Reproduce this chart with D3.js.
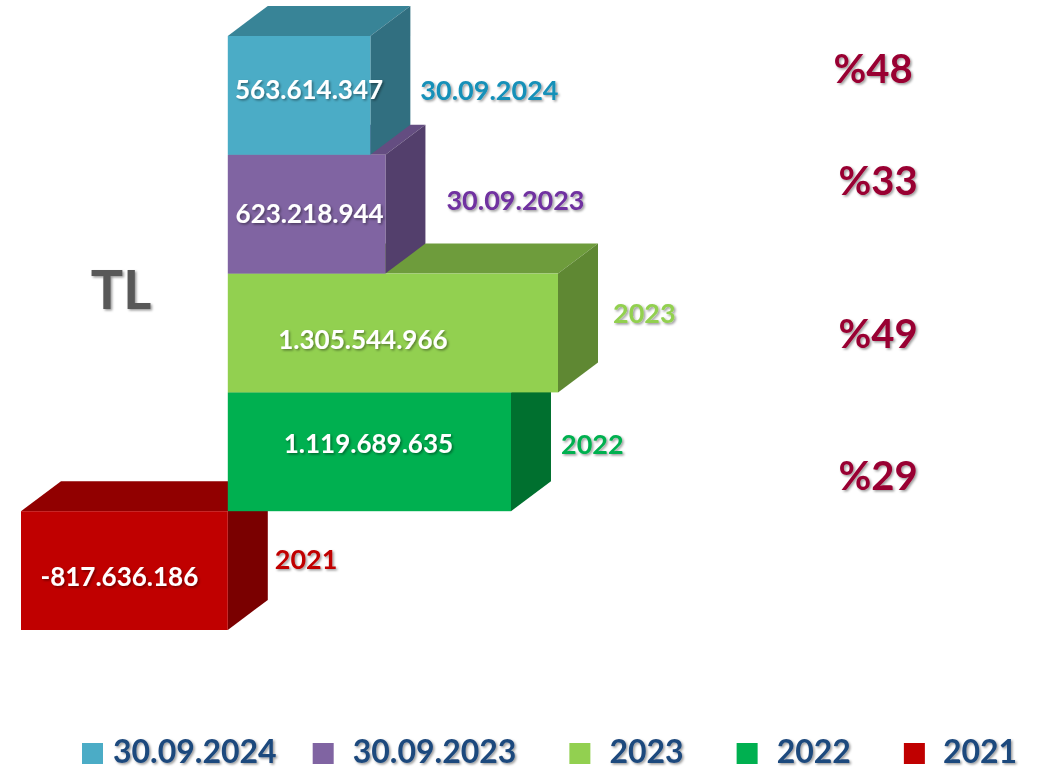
<!DOCTYPE html>
<html>
<head>
<meta charset="utf-8">
<script src="https://cdn.jsdelivr.net/npm/d3@7"></script>
<style>
  html, body { margin: 0; padding: 0; background: #ffffff; }
  svg { display: block; }
  text { font-family: Lato, "Open Sans", "Liberation Sans", sans-serif; font-weight: 700; }
</style>
</head>
<body>
<svg id="chart" width="1061" height="770"></svg>
<script>
// ---- data ----
const categories = ["30.09.2024", "30.09.2023", "2023", "2022", "2021"];
const values = [563614347, 623218944, 1305544966, 1119689635, -817636186];
const valueLabels = ["563.614.347", "623.218.944", "1.305.544.966", "1.119.689.635", "-817.636.186"];
const growthLabels = ["%48", "%33", "%49", "%29"];
const unitLabel = "TL";

// ---- styles ----
const frontColors = ["#4BACC6", "#8064A2", "#92D050", "#00B050", "#C00000"];
const topColors   = ["#388497", "#644D81", "#6E9C3C", "#00893D", "#910000"];
const sideColors  = ["#316F80", "#533F6C", "#5F8833", "#00702F", "#7A0000"];
const catLabelColors = ["#1590B8", "#7030A0", "#92D050", "#00B050", "#C00000"];

const W = 1061, H = 770;
const depthX = 40, depthY = 30;

const svg = d3.select("#chart");
const defs = svg.append("defs");
const f = defs.append("filter").attr("id", "shadow").attr("x", "-10%").attr("y", "-20%").attr("width", "130%").attr("height", "150%");
f.append("feDropShadow").attr("dx", 1.5).attr("dy", 1.5).attr("stdDeviation", 1).attr("flood-color", "#000").attr("flood-opacity", 0.4);

const data = categories.map((c, i) => ({
  cat: c, value: values[i], label: valueLabels[i], i
}));

const x = d3.scaleLinear()
  .domain([d3.min(values), d3.max(values)])
  .range([21, 558]);

const y = d3.scaleBand()
  .domain(categories)
  .range([36, 630])
  .padding(0);

const bw = y.bandwidth();

// draw bottom bars first so upper bars overlap them
const order = data.slice().reverse();
const bars = svg.append("g").selectAll("g.bar").data(order).join("g").attr("class", "bar");

bars.each(function(d) {
  const g = d3.select(this);
  const x0 = x(Math.min(0, d.value)), x1 = x(Math.max(0, d.value));
  const y0 = y(d.cat), y1 = y0 + bw;
  g.append("path")
    .attr("d", `M${x0},${y0}L${x0 + depthX},${y0 - depthY}L${x1 + depthX},${y0 - depthY}L${x1},${y0}Z`)
    .attr("fill", topColors[d.i]);
  g.append("path")
    .attr("d", `M${x1},${y0}L${x1 + depthX},${y0 - depthY}L${x1 + depthX},${y1 - depthY}L${x1},${y1}Z`)
    .attr("fill", sideColors[d.i]);
  g.append("rect")
    .attr("x", x0).attr("y", y0).attr("width", x1 - x0).attr("height", bw)
    .attr("fill", frontColors[d.i]);
});

// value labels inside front faces
const valNudge = [{dx: 10, dy: -6}, {dx: 3, dy: -1}, {dx: -30, dy: 7}, {dx: -1, dy: -8}, {dx: -5, dy: 6}];
svg.append("g").selectAll("text").data(data).join("text")
  .attr("x", d => (x(Math.min(0, d.value)) + x(Math.max(0, d.value))) / 2 + valNudge[d.i].dx)
  .attr("y", d => y(d.cat) + bw / 2 + valNudge[d.i].dy)
  .attr("dy", "0.36em")
  .attr("text-anchor", "middle")
  .attr("font-size", 26)
  .attr("fill", "#ffffff")
  .attr("filter", "url(#shadow)")
  .text(d => d.label);

// category labels to the right of each bar
const catNudge = [{dx: 10, dy: 10}, {dx: 21, dy: 1}, {dx: 15, dy: -5}, {dx: 10, dy: 7}, {dx: 7, dy: 4}];
svg.append("g").selectAll("text").data(data).join("text")
  .attr("x", d => x(Math.max(0, d.value)) + depthX + catNudge[d.i].dx)
  .attr("y", d => y(d.cat) + bw / 2 - depthY / 2 + catNudge[d.i].dy)
  .attr("dy", "0.36em")
  .attr("font-size", 27)
  .attr("fill", (d) => catLabelColors[d.i])
  .attr("filter", "url(#shadow)")
  .text(d => d.cat);

// growth percentages
const pctNudge = [-27, -34, 1, 24];
svg.append("g").selectAll("text").data(growthLabels).join("text")
  .attr("x", (d, i) => 878 - (i === 0 ? 5 : 0))
  .attr("y", (d, i) => y(categories[i]) + bw / 2 + pctNudge[i])
  .attr("dy", "0.36em")
  .attr("text-anchor", "middle")
  .attr("font-size", 40)
  .attr("fill", "#990033")
  .attr("filter", "url(#shadow)")
  .text(d => d);

// unit label
svg.append("text")
  .attr("x", 121).attr("y", 290).attr("dy", "0.36em")
  .attr("text-anchor", "middle")
  .attr("font-size", 54)
  .attr("fill", "#595959")
  .attr("filter", "url(#shadow)")
  .text(unitLabel);

// legend
const legend = svg.append("g");
let lx = 82;
const swatchGap = [31, 40, 40, 40, 39];
const itemGap = [36, 53, 53, 53, 0];
categories.forEach((c, i) => {
  legend.append("rect").attr("x", lx).attr("y", 743).attr("width", 21).attr("height", 21).attr("fill", frontColors[i]);
  const t = legend.append("text")
    .attr("x", lx + swatchGap[i]).attr("y", 763)
    .attr("font-size", 32)
    .attr("fill", "#1F497D")
    .attr("filter", "url(#shadow)")
    .text(c);
  lx = lx + swatchGap[i] + t.node().getComputedTextLength() + itemGap[i];
});
</script>
</body>
</html>
